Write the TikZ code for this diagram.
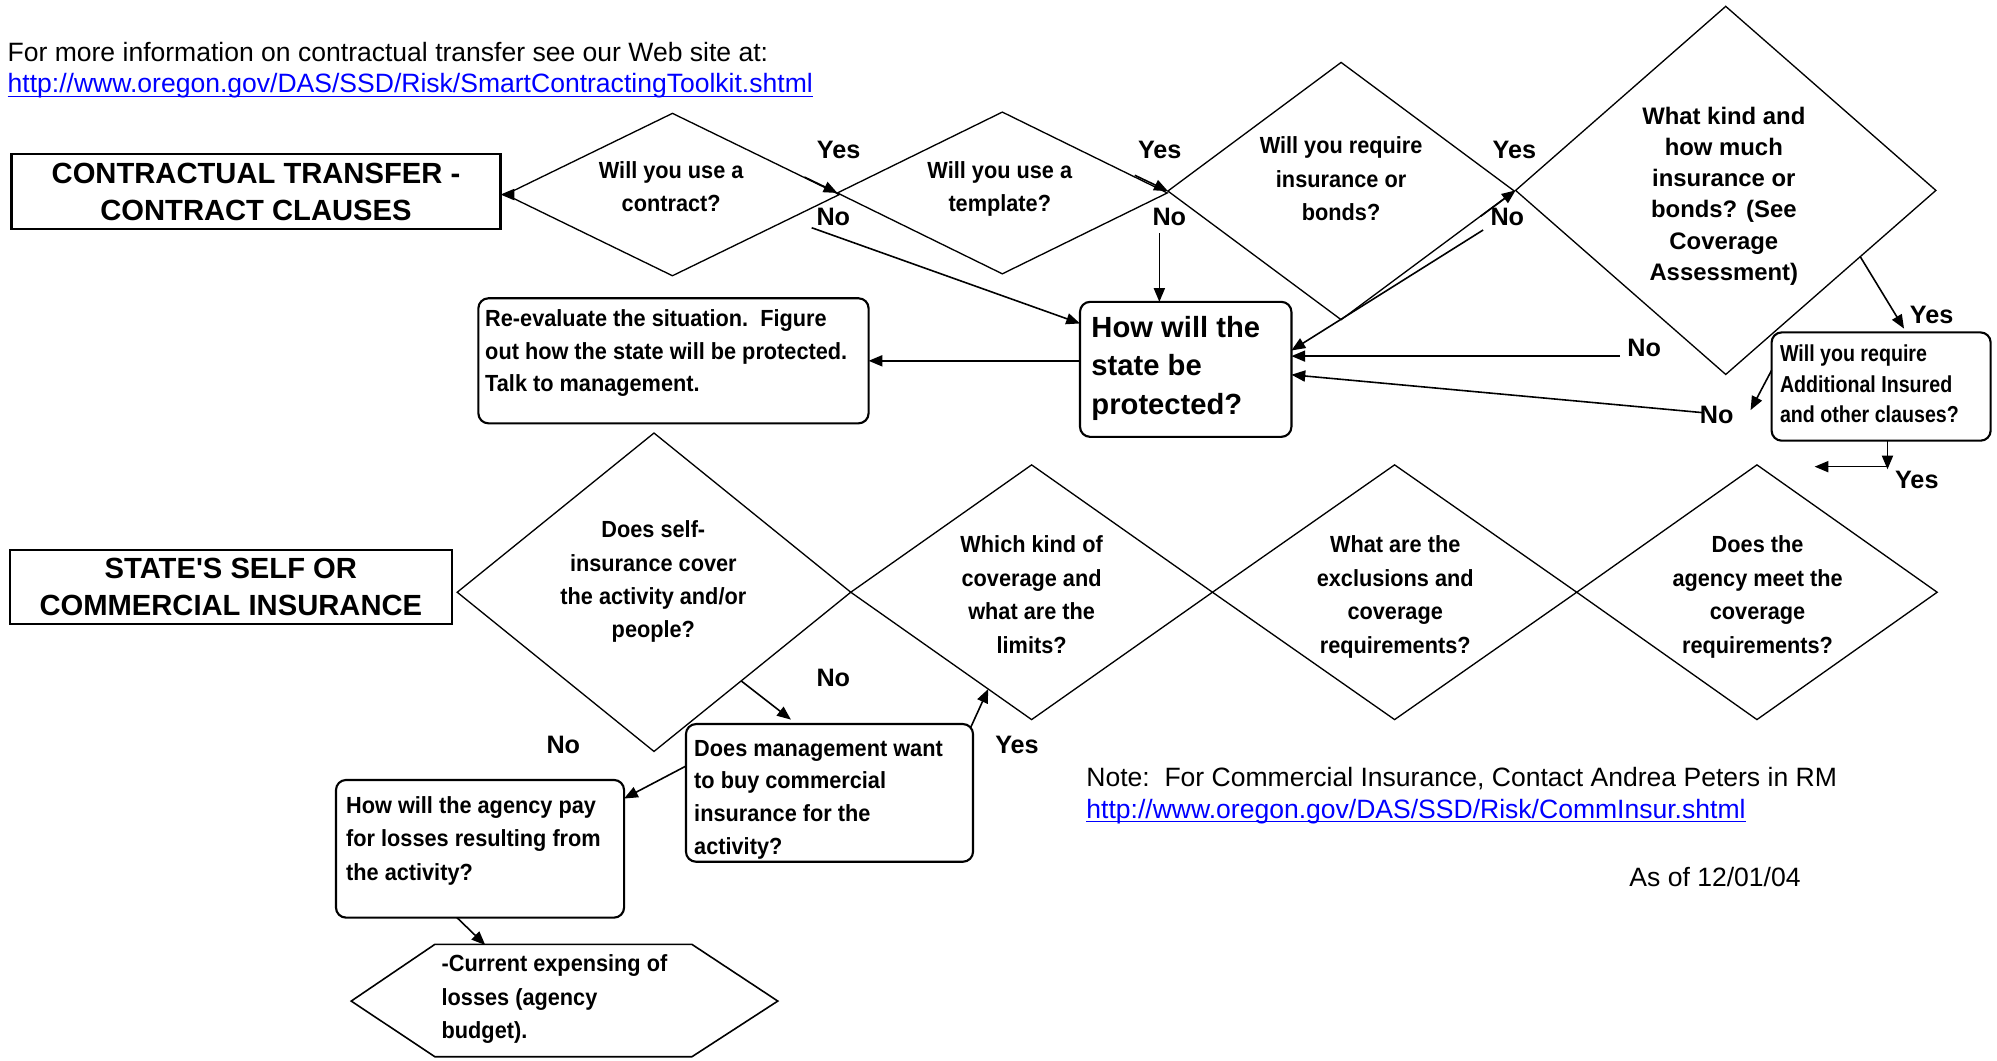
\documentclass[tikz,border=0pt]{standalone}
\usepackage{fontspec}
\setmainfont{Liberation Sans}
\newfontfamily\cbf[FakeStretch=0.93]{Liberation Sans}
\newfontfamily\nbf[FakeStretch=0.85]{Liberation Sans}
\usetikzlibrary{shapes.geometric,arrows.meta,calc}
\definecolor{linkblue}{RGB}{0,0,255}
\newsavebox\myulbox
\newcommand{\myulink}[1]{\sbox\myulbox{#1}{\color{linkblue}\rlap{\rule[-1.6pt]{\wd\myulbox}{0.6pt}}#1}}
\tikzset{
  every node/.style={inner sep=0pt, outer sep=0pt},
  dia/.style={draw, diamond, line width=0.5pt},
  sz/.style 2 args={minimum width=#1*0.48pt, minimum height=#2*0.48pt},
  rbox/.style={draw, rectangle, rounded corners=3.8pt, line width=0.8pt},
  hbox/.style={draw, rectangle, line width=0.9pt, align=center, font=\bfseries\fontsize{11}{13.8}\selectfont},
  qtext/.style={font=\cbf\bfseries\fontsize{8.8}{#1}\selectfont, align=center, anchor=north},
  qtext/.default=12.5,
  btext/.style={font=\cbf\bfseries\fontsize{8.8}{#1}\selectfont, align=left, anchor=north west},
  btext/.default=12.5,
  yn/.style={font=\bfseries\fontsize{9.5}{11}\selectfont},
  plain/.style={font=\fontsize{10}{#1}\selectfont, align=left, anchor=north west},
  plain/.default=12,
  arr/.style={line width=0.6pt, -{Triangle[length=5.2pt,width=4.2pt]}},
  hexline/.style={draw, line width=0.6pt},
}
\begin{document}
\begin{tikzpicture}[x=0.48pt, y=-0.48pt]
\fill[white] (0,0) rectangle (1568,832.3);
\useasboundingbox (0,0) rectangle (1568,832.3);

% top text
\node[plain=11.7] (toptext) at (6,33.5) {For more information on contractual transfer see our Web site at:\\\myulink{http://www.oregon.gov/DAS/SSD/Risk/SmartContractingToolkit.shtml}};

% heading boxes
\node[hbox, sz={384}{59}] (cbox) at (201,150.5) {CONTRACTUAL TRANSFER -\\CONTRACT CLAUSES};
\node[hbox, sz={347}{58}] (sbox) at (181.25,461) {STATE\textquotesingle S SELF OR\\COMMERCIAL INSURANCE};

% upper diamonds
\node[dia, sz={262}{127.5}] (d1) at (528,152.75) {};
\node[qtext=12.25] (d1t) at (527,127) {Will you use a\\contract?};
\node[dia, sz={259}{127}] (d2) at (787,151.5) {};
\node[qtext=12.25] (d2t) at (785,127) {Will you use a\\template?};
\node[dia, sz={272}{202}] (d3) at (1053,150) {};
\node[qtext=12.5] (d3t) at (1053,107.5) {Will you require\\insurance or\\bonds?};
\node[dia, sz={330}{289}] (d4) at (1355,149.5) {};
\node[font=\bfseries\fontsize{9}{11.76}\selectfont, align=center, anchor=north] (d4t) at (1353.5,84) {What kind and\\how much\\insurance or\\bonds? (See\\Coverage\\Assessment)};

% lower diamonds
\node[dia, sz={309}{250}] (d5) at (513.5,465) {};
\node[qtext=12.5] (d5t) at (513,409) {Does self-\\insurance cover\\the activity and/or\\people?};
\node[dia, sz={284}{200}] (d6) at (810,465) {};
\node[qtext=12.65] (d6t) at (810,420.5) {Which kind of\\coverage and\\what are the\\limits?};
\node[dia, sz={286}{200}] (d7) at (1095,465) {};
\node[qtext=12.65] (d7t) at (1095.5,420.5) {What are the\\exclusions and\\coverage\\requirements?};
\node[dia, sz={283}{200}] (d8) at (1379.5,465) {};
\node[qtext=12.65] (d8t) at (1380,420.5) {Does the\\agency meet the\\coverage\\requirements?};

% rounded boxes
\node[rbox, sz={306.4}{98.2}] (rebox) at (528.8,283.3) {};
\node[btext=12.25] (rebt) at (381,243.4) {Re-evaluate the situation.\ \ Figure\\out how the state will be protected.\\Talk to management.};
\node[rbox, sz={166}{106}] (howbox) at (931,290) {};
\node[font=\bfseries\fontsize{11}{14.4}\selectfont, align=left, anchor=north west] (howt) at (857,248.6) {How will the\\state be\\protected?};
\node[rbox, sz={172}{85}] (addl) at (1477,303.5) {};
\node[font=\nbf\bfseries\fontsize{8.7}{11.45}\selectfont, align=left, anchor=north west] (addlt) at (1397.6,270.9) {Will you require\\Additional Insured\\and other clauses?};
\node[rbox, sz={225.4}{108.1}] (mgmt) at (651.3,622.55) {};
\node[btext=12.35] (mgmtt) at (545.1,581) {Does management want\\to buy commercial\\insurance for the\\activity?};
\node[rbox, sz={226.2}{108.1}] (agency) at (376.9,666.45) {};
\node[btext=12.55] (agencyt) at (271.8,625.5) {How will the agency pay\\for losses resulting from\\the activity?};

% hexagon
\coordinate (hxL) at (275.8,786);
\coordinate (hxUL) at (341.4,741.5);
\coordinate (hxUR) at (543.3,741.5);
\coordinate (hxR) at (610.7,786);
\coordinate (hxLR) at (543.3,829.7);
\coordinate (hxLL) at (341.4,829.7);
\draw[hexline] (hxL) -- (hxUL) -- (hxUR) -- (hxR) -- (hxLR) -- (hxLL) -- cycle;
\node[btext=12.6] (hext) at (346.8,749.8) {-Current expensing of\\losses (agency\\budget).};
\coordinate (hxtop) at (381,742);

% Yes / No labels
\node[yn] (y1) at (658.5,117.8) {Yes};
\node[yn] (n1) at (654.3,170.1) {No};
\node[yn] (y2) at (910.6,117.8) {Yes};
\node[yn] (n2) at (918.1,170.1) {No};
\node[yn] (y3) at (1189,117.8) {Yes};
\node[yn] (n3) at (1183.5,170.1) {No};
\node[yn] (y4) at (1516.7,247.3) {Yes};
\node[yn] (n5) at (1291,273.5) {No};
\node[yn] (n6) at (1347.9,325.8) {No};
\node[yn] (y7) at (1505,376.9) {Yes};
\node[yn] (n8) at (654.3,532.5) {No};
\node[yn] (n9) at (442.3,584.8) {No};
\node[yn] (y10) at (798.5,584.8) {Yes};

% connectors, upper part
\draw[arr] (d1.west) -- (d1.west -| cbox.east);
\draw[arr] ($(d1.north)!0.8!(d2.west)$) -- (d2.west);
\draw[arr] ($(d2.north)!0.8!(d3.west)$) -- (d3.west);
\draw[arr] ($(d3.south)!0.8!(d4.west)$) -- (d4.west);
\coordinate (n1s) at (637.3,178.8);
\draw[arr] (n1s) -- ($(howbox.north west)!0.16!(howbox.south west)$);
\coordinate (n2s) at (910.3,183.2);
\draw[arr] (n2s) -- (n2s |- howbox.north);
\coordinate (n3s) at (1164.5,180.6);
\draw[arr] (n3s) -- ($(howbox.north east)!0.36!(howbox.south east)$);
\coordinate (n5s) at (1272,279.6);
\draw[arr] (n5s) -- (n5s -| howbox.east);
\coordinate (n6s) at (1337,324);
\draw[arr] (n6s) -- ($(howbox.north east)!0.54!(howbox.south east)$);
\draw[arr] (howbox.west |- rebox.east) -- (rebox.east);
\coordinate (y4s) at ($(d4.east)!0.36!(d4.south)$);
\draw[arr] (y4s) -- ($(addl.north west)+(104,-3)$);
\coordinate (n6e) at (1374.5,322);
\draw[arr] ($(addl.north west)!0.35!(addl.south west)$) -- (n6e);
\coordinate (vb) at (1482,368.5);
\draw[arr] ($(addl.south west)+(91,0)$) -- (vb);
\coordinate (hb) at (1482,366.4);
\coordinate (hbe) at (1424.8,366.4);
\draw[arr] (hb) -- (hbe);

% connectors, lower part
\coordinate (mg1) at (621,565);
\draw[arr] ($(d5.east)!0.557!(d5.south)$) -- (mg1);
\draw[arr] ($(mgmt.north east)+(-2,3)$) -- ($(d6.west)!0.76!(d6.south)$);
\draw[arr] ($(mgmt.north west)!0.305!(mgmt.south west)$) -- ($(agency.north east)!0.135!(agency.south east)$);
\draw[arr] ($(agency.south west)!0.42!(agency.south east)$) -- (hxtop);

% note text
\node[plain=12] (note) at (853,602.2) {Note:\ \ For Commercial Insurance, Contact Andrea Peters in RM\\\myulink{http://www.oregon.gov/DAS/SSD/Risk/CommInsur.shtml}};
\node[plain] (asof) at (1279.4,680.8) {As of 12/01/04};
\end{tikzpicture}
\end{document}
